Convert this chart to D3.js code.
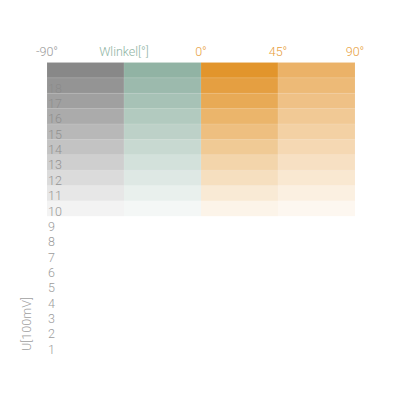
<!DOCTYPE html>
<html><head><meta charset="utf-8">
<script src="https://cdn.jsdelivr.net/npm/d3@7"></script>
<style>body{margin:0;background:#fff}svg{display:block}text{font-family:Roboto,sans-serif;font-weight:300}</style>
</head><body><div id="c"></div>
<script>
const columnStarts = [-90, -45, 0, 45];
const columnColors = ["#888888", "#91b3a4", "#e2952c", "#ebb268"];
const rowValues = [10, 11, 12, 13, 14, 15, 16, 17, 18, 19];
const rowLabels = [1, 2, 3, 4, 5, 6, 7, 8, 9, 10, 11, 12, 13, 14, 15, 16, 17, 18, 19];
const topTicks = [-90, 0, 45, 90];
const topTickColors = ["#9a9a9a", "#e8a040", "#e8a040", "#e8a040"];
const xTitle = "Wlinkel[°]";
const yTitle = "U[100mV]";

const W = 400, H = 400;
const svg = d3.select("#c").append("svg").attr("width", W).attr("height", H);
const x = d3.scaleLinear().domain([-90, 90]).range([47, 355]);
const y = d3.scaleLinear().domain([0, 19]).range([354.5, 62.5]);
const op = d3.scaleLinear().domain([9, 19]).range([0, 1]);

// row labels (under the cells)
svg.append("g").selectAll("text").data(rowLabels).join("text")
  .attr("x", 48).attr("y", d => (y(d) + y(d - 1)) / 2 + 7)
  .attr("fill", "#9c9c9c").attr("font-size", 12.5).text(d => d);

// cells
const cells = [];
rowValues.forEach(v => columnStarts.forEach((c, i) => cells.push({v, c, i})));
svg.append("g").selectAll("rect").data(cells).join("rect")
  .attr("x", d => x(d.c)).attr("width", x(45) - x(0))
  .attr("y", d => y(d.v)).attr("height", d => y(d.v - 1) - y(d.v))
  .attr("fill", d => columnColors[d.i]).attr("fill-opacity", d => op(d.v))
  .attr("stroke", "#fff").attr("stroke-opacity", 0.08).attr("stroke-width", 1);

// top ticks
svg.append("g").selectAll("text").data(topTicks).join("text")
  .attr("x", d => x(d)).attr("y", 56).attr("text-anchor", "middle")
  .attr("fill", (d, i) => topTickColors[i]).attr("font-size", 12.5).text(d => d + "°");

svg.append("text").attr("x", x(-45)).attr("y", 56).attr("text-anchor", "middle")
  .attr("fill", "#8fb4a4").attr("font-size", 12.5).text(xTitle);

svg.append("text").attr("transform", `translate(31,${324}) rotate(-90)`)
  .attr("text-anchor", "middle").attr("fill", "#a0a0a0").attr("font-size", 12.5).text(yTitle);
</script></body></html>
